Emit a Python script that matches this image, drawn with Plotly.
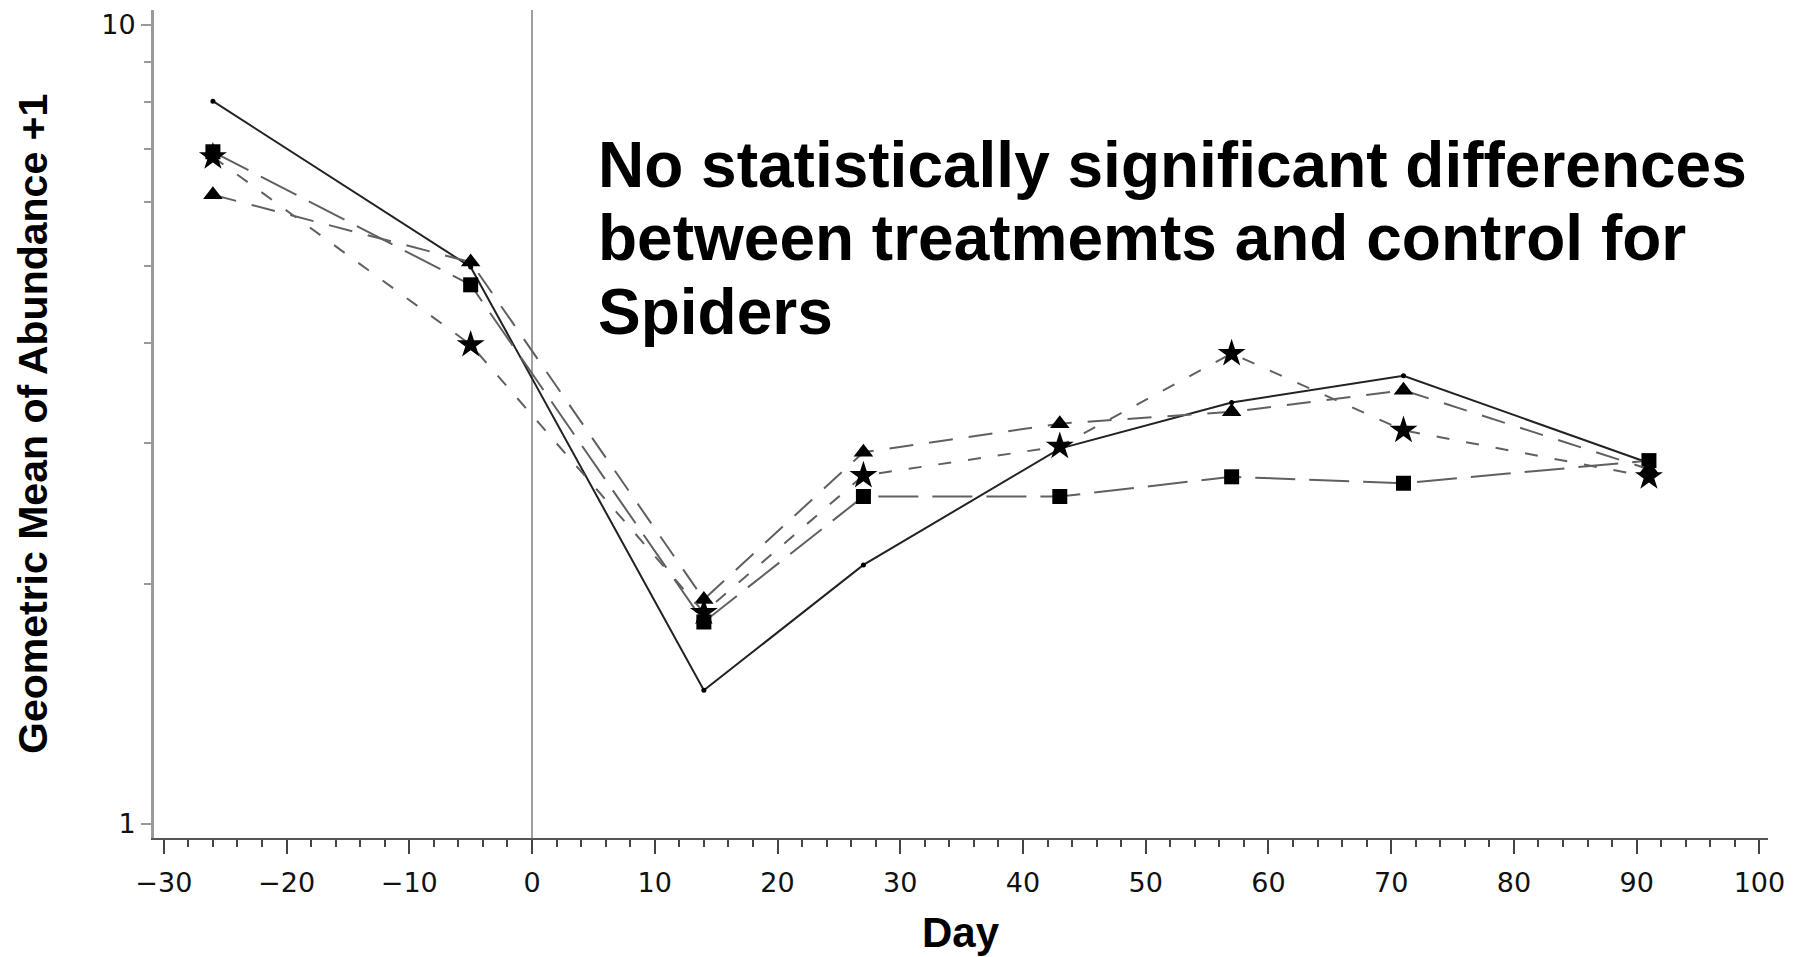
import plotly.graph_objects as go

# Sampling days relative to treatment (day 0)
days = [-26, -5, 14, 27, 43, 57, 71, 91]

# Geometric mean of abundance + 1 for spiders, per group
control = [8.03, 4.98, 1.47, 2.11, 2.95, 3.37, 3.64, 2.83]
treat_square = [6.94, 4.73, 1.79, 2.57, 2.57, 2.72, 2.67, 2.85]
treat_triangle = [6.13, 5.05, 1.91, 2.92, 3.17, 3.28, 3.49, 2.78]
treat_star = [6.84, 3.98, 1.84, 2.73, 2.97, 3.88, 3.11, 2.72]

x_ticks = [-30, -20, -10, 0, 10, 20, 30, 40, 50, 60, 70, 80, 90, 100]
y_ticks = [1, 10]
y_minor = [2, 3, 4, 5, 6, 7, 8, 9]

note_lines = [
    "No statistically significant differences",
    "between treatmemts and control for",
    "Spiders",
]

W, H = 1800, 957
L, R, T, B = 154, 32, 10, 119
plot_w = W - L - R
plot_h = H - T - B


def px_to_paper_x(px):
    return (px - L) / plot_w


def px_to_paper_y(py):
    return (H - B - py) / plot_h


fig = go.Figure()

series = [
    ("Control", control, "solid", "#222222", "circle", 5),
    ("Treatment 1", treat_square, "40px,14px", "#606060", "square", 15),
    ("Treatment 2", treat_triangle, "24px,16px", "#606060", "triangle-up", 17),
    ("Treatment 3", treat_star, "13px,17px", "#606060", "star", 21),
]

for name, vals, dash, lc, sym, size in series:
    fig.add_trace(go.Scatter(
        x=days, y=vals, name=name, mode="lines+markers",
        line=dict(color=lc, width=2, dash=dash),
        marker=dict(symbol=sym, size=size, color="black",
                    line=dict(width=0)),
        showlegend=False,
    ))

tick_font = dict(family="DejaVu Sans", size=27, color="#111111")

fig.update_xaxes(
    range=[-30.8, 100.7],
    tickmode="array", tickvals=x_ticks,
    ticks="outside", ticklen=14, tickwidth=2, tickcolor="#444444",
    minor=dict(dtick=2, tick0=0, ticks="outside", ticklen=7,
               tickwidth=2, tickcolor="#444444", showgrid=False),
    showline=True, linecolor="#555555", linewidth=2,
    showgrid=False,
    zeroline=True, zerolinecolor="#a0a0a0", zerolinewidth=2,
    tickfont=tick_font, ticklabelstandoff=6,
)

fig.update_yaxes(
    type="log", range=[-0.0175, 1.0188],
    tickmode="array", tickvals=y_ticks, ticktext=["1", "10"],
    ticks="outside", ticklen=10, tickwidth=2, tickcolor="#999999",
    minor=dict(tickmode="array", tickvals=y_minor, ticks="outside",
               ticklen=7, tickwidth=2, tickcolor="#999999", showgrid=False),
    showline=True, linecolor="#9a9a9a", linewidth=3,
    showgrid=False, zeroline=False,
    tickfont=tick_font, ticklabelstandoff=0,
)

annotations = []
# Three-line note, laid out line by line
for text, baseline in zip(note_lines, [187, 260, 334]):
    annotations.append(dict(
        text="<b>" + text + "</b>", xref="paper", yref="paper",
        x=px_to_paper_x(596), y=px_to_paper_y(baseline - 22),
        xanchor="left", yanchor="middle", showarrow=False,
        font=dict(family="Liberation Sans, Arial", size=64, color="black"),
    ))

# Axis titles
annotations.append(dict(
    text="<b>Geometric Mean of Abundance +1</b>", xref="paper", yref="paper",
    x=px_to_paper_x(33), y=0.5, xanchor="center", yanchor="middle",
    textangle=-90, showarrow=False,
    font=dict(family="Liberation Sans, Arial", size=41, color="black"),
))
annotations.append(dict(
    text="<b>Day</b>", xref="paper", yref="paper",
    x=0.5, y=px_to_paper_y(932), xanchor="center", yanchor="middle",
    showarrow=False,
    font=dict(family="Liberation Sans, Arial", size=42, color="black"),
))

fig.update_layout(
    width=W, height=H, autosize=False,
    margin=dict(l=L, r=R, t=T, b=B),
    paper_bgcolor="white", plot_bgcolor="white",
    annotations=annotations,
    showlegend=False,
)

fig.write_html("out.html")
